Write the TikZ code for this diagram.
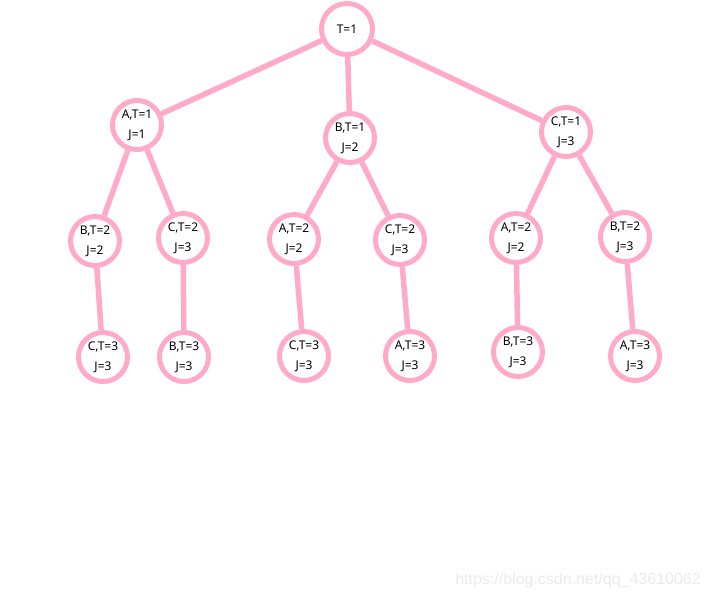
\documentclass[tikz,border=0pt]{standalone}
\usepackage{fontspec}
\setmainfont{Noto Sans}
\newfontfamily\wmfont{Liberation Sans}
\definecolor{pinkline}{RGB}{255,170,200}
\newcommand{\twol}[3]{\raisebox{#3}{#1}\\[6pt]\raisebox{#3}{#2}}
\begin{document}
\begin{tikzpicture}[x=1pt,y=-1pt,
  st/.style={circle,draw=pinkline,line width=5pt,fill=white,minimum size=49pt,inner sep=0pt,
    font=\fontsize{12}{14}\selectfont,align=center},
  edge/.style={draw=pinkline,line width=5.5pt}]
\useasboundingbox (0,0) rectangle (710,599);
\node[st,minimum size=51pt] (r) at (347,29) {T=1};
\node[st] (a1) at (137,125) {\twol{A,T=1}{J=1}{-2pt}};
\node[st] (b1) at (350,138) {\twol{B,T=1}{J=2}{-3pt}};
\node[st] (c1) at (566,132) {\twol{C,T=1}{J=3}{-3pt}};
\node[st] (a1b) at (95,241) {\twol{B,T=2}{J=2}{-1pt}};
\node[st] (a1c) at (183,238) {\twol{C,T=2}{J=3}{-3pt}};
\node[st] (b1a) at (294,239) {\twol{A,T=2}{J=2}{-1pt}};
\node[st] (b1c) at (400,240) {\twol{C,T=2}{J=3}{-3pt}};
\node[st] (c1a) at (516,238) {\twol{A,T=2}{J=2}{-1pt}};
\node[st] (c1b) at (625,237) {\twol{B,T=2}{J=3}{-1pt}};
\node[st] (a1bc) at (103,357) {\twol{C,T=3}{J=3}{-2pt}};
\node[st] (a1cb) at (184,357) {\twol{B,T=3}{J=3}{-2pt}};
\node[st] (b1ac) at (304,356) {\twol{C,T=3}{J=3}{-2pt}};
\node[st] (b1ca) at (410,356) {\twol{A,T=3}{J=3}{-2pt}};
\node[st] (c1ab) at (518,352) {\twol{B,T=3}{J=3}{-2pt}};
\node[st] (c1ba) at (635,356) {\twol{A,T=3}{J=3}{-2pt}};
\path[edge] (r) -- (a1) (r) -- (b1) (r) -- (c1)
  (a1) -- (a1b) (a1) -- (a1c) (b1) -- (b1a) (b1) -- (b1c) (c1) -- (c1a) (c1) -- (c1b)
  (a1b) -- (a1bc) (a1c) -- (a1cb) (b1a) -- (b1ac) (b1c) -- (b1ca) (c1a) -- (c1ab) (c1b) -- (c1ba);
\node[font=\wmfont\fontsize{16}{18}\selectfont,text=black!8,anchor=east,inner sep=0pt] (wm) at (701,580) {https://blog.csdn.net/qq\_43610062};
\end{tikzpicture}
\end{document}
